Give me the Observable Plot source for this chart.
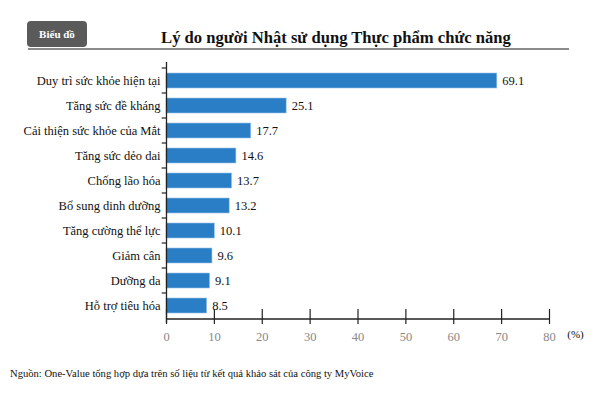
<!DOCTYPE html>
<html><head><meta charset="utf-8">
<script src="https://cdn.jsdelivr.net/npm/d3@7"></script>
<script src="https://cdn.jsdelivr.net/npm/@observablehq/plot@0.6"></script>
<style>
body{margin:0;background:#fff;font-family:"Liberation Serif","Times New Roman",serif;}
#wrap{position:relative;width:600px;height:393px;overflow:hidden;}
#badge{position:absolute;left:27px;top:21px;width:60px;height:26px;background:#5a5a5a;border-radius:4px;color:#fff;font-weight:bold;font-size:11px;line-height:26px;text-align:center;}
#title{position:absolute;left:100px;width:472px;top:28px;text-align:center;font-weight:bold;font-size:16.6px;color:#111;}
#rule{position:absolute;left:28px;top:48px;width:541px;height:2px;background:#8a8a8a;}
#src{position:absolute;left:10px;top:368px;font-size:10.6px;color:#111;}
#chart{position:absolute;left:0;top:0;}
</style></head>
<body><div id="wrap">
<div id="chart"></div>
<div id="badge">Biểu đồ</div>
<div id="title">Lý do người Nhật sử dụng Thực phẩm chức năng</div>
<div id="rule"></div>
<div id="src">Nguồn: One-Value tổng hợp dựa trên số liệu từ kết quả khảo sát của công ty MyVoice</div>
</div>
<script>
const categories = ["Duy trì sức khỏe hiện tại","Tăng sức đề kháng","Cải thiện sức khỏe của Mắt","Tăng sức dẻo dai","Chống lão hóa","Bổ sung dinh dưỡng","Tăng cường thể lực","Giảm cân","Dưỡng da","Hỗ trợ tiêu hóa"];
const values = [69.1,25.1,17.7,14.6,13.7,13.2,10.1,9.6,9.1,8.5];
const xTicks = [0,10,20,30,40,50,60,70,80];
const data = categories.map((c,i)=>({cat:c, v:values[i]}));
const SERIF = "Liberation Serif";

const chart = Plot.plot({
  width: 600, height: 393,
  marginTop: 62, marginBottom: 70, marginLeft: 166, marginRight: 51,
  style: {fontSize: "12px", fontFamily: SERIF, background: "transparent"},
  x: {domain: [0,80], ticks: xTicks, label: null},
  y: {domain: categories, padding: 0.42, label: null},
  marks: [
    Plot.barX(data, {x: "v", y: "cat", fill: "#2a7ec6", stroke: "#9cc3e6", strokeWidth: 0.6}),
    Plot.text(data, {x: "v", y: "cat", text: d => d.v.toFixed(1), textAnchor: "start", dx: 5, fill: "#111", fontSize: 12.5, fontFamily: SERIF}),
    Plot.ruleY(categories, {y: d => d, x1: -0.9, x2: 0, dy: -13, stroke: "#222", strokeWidth: 1.2, clip: false}),
    Plot.ruleX([0], {stroke: "#222", strokeWidth: 1.3}),
    Plot.ruleY([0], {y: () => categories[categories.length-1], x1: 0, x2: 80, dy: 13, stroke: "#222", strokeWidth: 1.3}),
    Plot.axisY({tickSize: 0, tickPadding: 6, fill: "#111", fontSize: 12.5, fontFamily: SERIF}),
    Plot.axisX({ticks: xTicks, tickSize: 0, tickPadding: 9, fill: "#888", fontSize: 12.5, fontFamily: SERIF, anchor: "bottom", label: null}),
    Plot.tickX(xTicks, {x: d => d, y: () => categories[categories.length-1], dy: 11, stroke: "#222", strokeWidth: 1.2, clip: false}),
    Plot.text(["(%)"], {x: 80, y: () => categories[categories.length-1], text: d => d, dx: 26, dy: 28, fill: "#111", fontSize: 11, fontFamily: SERIF, clip: false})
  ]
});
document.getElementById("chart").appendChild(chart);
</script>
</body></html>
